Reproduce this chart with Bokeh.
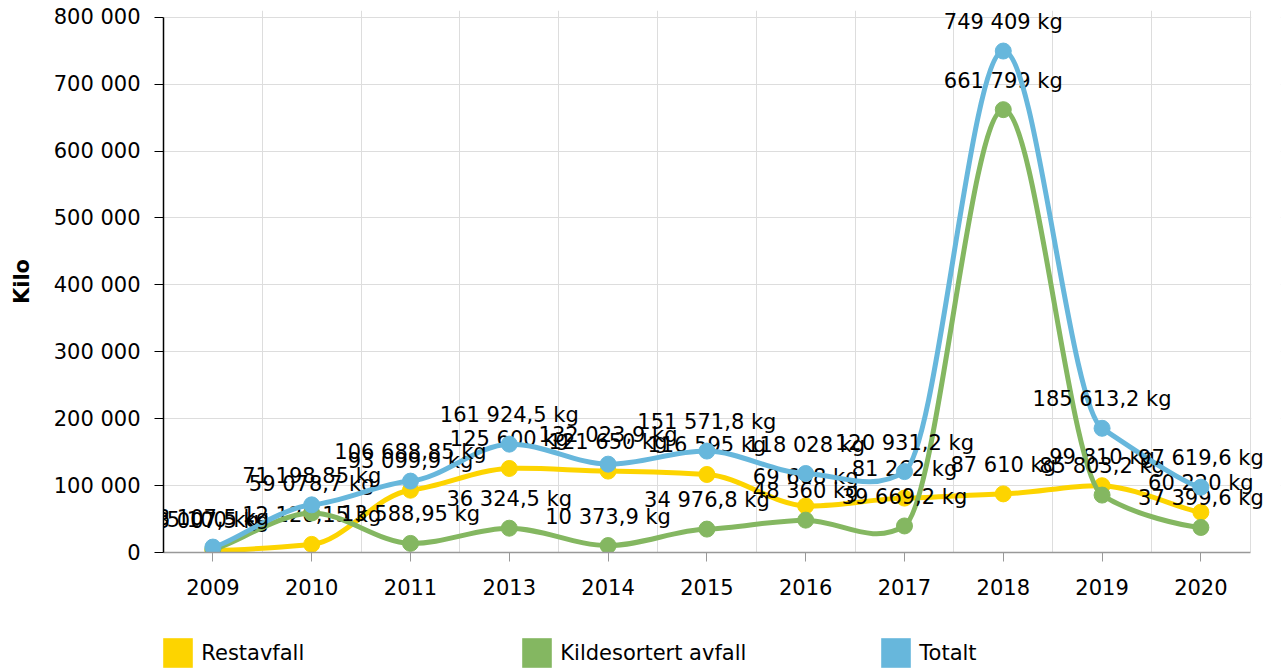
import numpy as np
from bokeh.plotting import figure
from bokeh.layouts import column
from bokeh.models import Range1d, FixedTicker, Legend, LegendItem, BoxAnnotation
from bokeh.core.properties import value
from bokeh.embed import file_html
from bokeh.resources import INLINE

# ---- data ----
years = ["2009", "2010", "2011", "2013", "2014", "2015", "2016", "2017", "2018", "2019", "2020"]
restavfall = [3007.5, 12120.15, 93099.9, 125600, 121650, 116595, 69668, 81262, 87610, 99810, 60220]
kildesortert = [5100, 59078.7, 13588.95, 36324.5, 10373.9, 34976.8, 48360, 39669.2, 661799, 85803.2, 37399.6]
totalt = [8107.5, 71198.85, 106688.85, 161924.5, 132023.9, 151571.8, 118028, 120931.2, 749409, 185613.2, 97619.6]
series_names = ["Restavfall", "Kildesortert avfall", "Totalt"]
y_ticks = [0, 100000, 200000, 300000, 400000, 500000, 600000, 700000, 800000]

colors = ["#FDD400", "#84B761", "#67B7DC"]
FONT = "DejaVu Sans"

def fmt(v):
    s = f"{v:,.2f}".rstrip("0").rstrip(".")
    return s.replace(",", " ").replace(".", ",") + " kg"

n = len(years)
xs = [i + 0.5 for i in range(n)]

p = figure(width=1284, height=608, output_backend="svg", toolbar_location=None,
           x_range=Range1d(0, 11.306), y_range=Range1d(0, 810000),
           min_border_left=163, min_border_right=4, min_border_top=10, min_border_bottom=56)
p.outline_line_color = None
p.background_fill_color = "white"
p.border_fill_color = "white"

# axes
p.yaxis.ticker = FixedTicker(ticks=y_ticks)
p.yaxis.major_label_overrides = {t: f"{t:,}".replace(",", " ") for t in y_ticks}
p.yaxis.bounds = (0, 800000)
p.yaxis.axis_line_color = "black"
p.yaxis.axis_line_width = 1.5
p.yaxis.major_tick_line_color = "black"
p.yaxis.major_tick_out = 9
p.yaxis.major_tick_in = 0
p.yaxis.minor_tick_line_color = None
p.yaxis.major_label_standoff = 14
p.yaxis.major_label_text_font = FONT
p.yaxis.major_label_text_font_size = "21px"
p.yaxis.major_label_text_color = "black"
p.yaxis.axis_label = "Kilo"
p.yaxis.axis_label_text_font = FONT
p.yaxis.axis_label_text_font_style = "bold"
p.yaxis.axis_label_text_font_size = "21px"
p.yaxis.axis_label_text_color = "black"
p.yaxis.axis_label_standoff = 17

p.xaxis.ticker = FixedTicker(ticks=xs)
p.xaxis.major_label_overrides = {x: y for x, y in zip(xs, years)}
p.xaxis.bounds = (0, n)
p.xaxis.axis_line_color = "#999999"
p.xaxis.axis_line_width = 1.5
p.xaxis.major_tick_line_color = "#999999"
p.xaxis.major_tick_out = 9
p.xaxis.major_tick_in = 0
p.xaxis.minor_tick_line_color = None
p.xaxis.major_label_standoff = 17
p.xaxis.major_label_text_font = FONT
p.xaxis.major_label_text_font_size = "21px"
p.xaxis.major_label_text_color = "black"

p.xgrid.ticker = FixedTicker(ticks=list(range(1, n + 1)))
p.xgrid.grid_line_color = "#dddddd"
p.ygrid.ticker = FixedTicker(ticks=y_ticks)
p.ygrid.grid_line_color = "#dddddd"

# keep the horizontal grid lines inside the category area
p.add_layout(BoxAnnotation(left=n + 0.01, fill_color="white", fill_alpha=1,
                           line_color=None, level="underlay"))

# smoothed lines (cubic bezier, catmull-rom style)
KX, KY = 1.0 / 6.0, 0.05

def bezier_parts(x, y):
    m = len(x)
    out = dict(x0=[], y0=[], x1=[], y1=[], cx0=[], cy0=[], cx1=[], cy1=[])
    for i in range(m - 1):
        a, b, c, d = max(i - 1, 0), i, i + 1, min(i + 2, m - 1)
        out["x0"].append(x[b]); out["y0"].append(y[b])
        out["x1"].append(x[c]); out["y1"].append(y[c])
        out["cx0"].append(x[b] + KX * (x[c] - x[a]))
        out["cy0"].append(y[b] + KY * (y[c] - y[a]))
        out["cx1"].append(x[c] - KX * (x[d] - x[b]))
        out["cy1"].append(y[c] - KY * (y[d] - y[b]))
    return out

for name, vals, col in zip(series_names, [restavfall, kildesortert, totalt], colors):
    bz = bezier_parts(xs, vals)
    p.bezier(source=bz, x0="x0", y0="y0", x1="x1", y1="y1",
             cx0="cx0", cy0="cy0", cx1="cx1", cy1="cy1",
             line_color=col, line_width=5, line_cap="round")
    p.scatter(xs, vals, size=16, fill_color=col, line_color=col)
    p.text(xs, vals, text=[fmt(v) for v in vals], text_align="center", text_baseline="middle",
           y_offset=-29, text_font=value(FONT), text_font_size="21px", text_color="black")

# ---- legend strip below the chart ----
leg = figure(width=1284, height=62, output_backend="svg", toolbar_location=None,
             x_axis_location=None, y_axis_location=None,
             x_range=Range1d(0, 1), y_range=Range1d(0, 1),
             min_border_left=0, min_border_right=0, min_border_top=0, min_border_bottom=0)
leg.outline_line_color = None
leg.grid.visible = False
leg.background_fill_color = "white"
leg.border_fill_color = "white"

nan = np.array([np.nan])
items = []
for name, col in zip(series_names, colors):
    dummy = leg.quad(left=nan, right=nan, top=nan, bottom=nan, fill_color=col, line_color=None)
    items.append(LegendItem(label=name, renderers=[dummy]))

legend = Legend(items=items, orientation="horizontal", location=(-3.7, -1.3),
                glyph_width=37, glyph_height=37, label_standoff=5, label_width=317,
                spacing=0, padding=0, margin=0, border_line_color=None,
                background_fill_alpha=0, label_text_font=FONT, label_text_font_size="21px",
                label_text_color="black")
leg.add_layout(legend, "center")

layout = column(p, leg, spacing=0)
open("out.html", "w").write(file_html(layout, INLINE))
